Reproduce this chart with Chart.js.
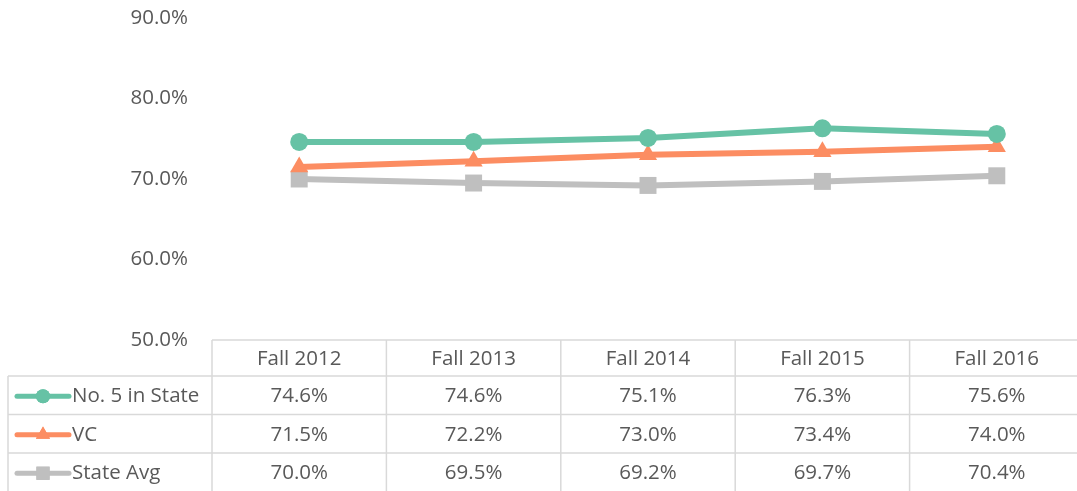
<!DOCTYPE html>
<html>
<head>
<meta charset="utf-8">
<script src="https://cdn.jsdelivr.net/npm/chart.js@4.4.1/dist/chart.umd.min.js"></script>
<style>
  html, body { margin: 0; padding: 0; background: #fff; overflow: hidden; }
  canvas { display: block; }
</style>
</head>
<body>
<canvas id="chart" width="1096" height="491"></canvas>
<script>
const categories = ['Fall 2012', 'Fall 2013', 'Fall 2014', 'Fall 2015', 'Fall 2016'];
const no5InState = [74.6, 74.6, 75.1, 76.3, 75.6];
const vc = [71.5, 72.2, 73.0, 73.4, 74.0];
const stateAvg = [70.0, 69.5, 69.2, 69.7, 70.4];
const yTicks = [50, 60, 70, 80, 90];

const FONT = '"Open Sans", sans-serif';
const FONT_SIZE = 20.5;
const TEXT = '#595959';
const GRID = '#D9D9D9';

const pct = v => v.toFixed(1) + '%';

// data table drawn under the plot, columns follow the x scale
const dataTable = {
    id: 'dataTable',
    afterDraw(chart) {
        const ctx = chart.ctx;
        const area = chart.chartArea;
        const xs = chart.scales.x;
        const n = categories.length;
        const colW = (area.right - area.left) / n;
        const top = area.bottom;
        const headH = 36;
        const rowH = 38.5;
        const tableLeft = 8;
        const bottom = top + headH + rowH * 3;

        ctx.save();
        ctx.strokeStyle = GRID;
        ctx.lineWidth = 1.5;
        ctx.beginPath();
        ctx.moveTo(area.left, top); ctx.lineTo(area.right, top);
        for (let r = 0; r < 3; r++) {
            const y = top + headH + r * rowH;
            ctx.moveTo(tableLeft, y); ctx.lineTo(area.right, y);
        }
        for (let i = 0; i <= n; i++) {
            const x = area.left + i * colW;
            ctx.moveTo(x, top); ctx.lineTo(x, bottom);
        }
        ctx.moveTo(tableLeft, top + headH); ctx.lineTo(tableLeft, bottom);
        ctx.stroke();

        ctx.fillStyle = TEXT;
        ctx.font = FONT_SIZE + 'px ' + FONT;
        ctx.textAlign = 'center';
        ctx.textBaseline = 'middle';
        categories.forEach((c, i) => {
            ctx.fillText(c, xs.getPixelForValue(i), top + headH / 2 + 1);
        });

        chart.data.datasets.forEach((ds, r) => {
            const yMid = top + headH + r * rowH + rowH / 2 + 1;
            ds.data.forEach((v, i) => {
                ctx.textAlign = 'center';
                ctx.fillStyle = TEXT;
                ctx.fillText(pct(v), xs.getPixelForValue(i), yMid);
            });
            // legend key
            ctx.strokeStyle = ds.borderColor;
            ctx.lineWidth = 5;
            ctx.lineCap = 'round';
            ctx.beginPath();
            ctx.moveTo(17, yMid); ctx.lineTo(69, yMid);
            ctx.stroke();
            ctx.fillStyle = ds.backgroundColor;
            Chart.helpers.drawPoint(ctx, {
                pointStyle: ds.pointStyle,
                radius: ds.pointRadius * 0.78,
                borderWidth: 0
            }, 43, yMid);
            ctx.fill();
            ctx.fillStyle = TEXT;
            ctx.textAlign = 'left';
            ctx.fillText(ds.label, 72, yMid);
        });
        ctx.restore();
    }
};

function series(label, data, color, style, radius) {
    return {
        label: label,
        data: data,
        borderColor: color,
        backgroundColor: color,
        borderWidth: 6,
        pointStyle: style,
        pointRadius: radius,
        pointHoverRadius: radius,
        pointBorderWidth: 0,
        tension: 0,
        fill: false
    };
}

new Chart(document.getElementById('chart'), {
    type: 'line',
    data: {
        labels: categories,
        datasets: [
            series('No. 5 in State', no5InState, '#66C2A5', 'circle', 9),
            series('VC', vc, '#FC8D62', 'triangle', 10.5),
            series('State Avg', stateAvg, '#BFBFBF', 'rect', 12)
        ]
    },
    options: {
        responsive: false,
        animation: false,
        layout: { padding: { top: 18, bottom: 151, left: 0, right: 0 } },
        plugins: {
            legend: { display: false },
            tooltip: { enabled: false }
        },
        scales: {
            x: {
                display: false,
                offset: true
            },
            y: {
                min: 50,
                max: 90,
                afterBuildTicks: s => { s.ticks = yTicks.map(v => ({ value: v })); },
                afterFit: s => { s.width = 212; s.paddingTop = 0; s.paddingBottom = 0; },
                grid: { display: false },
                border: { display: false },
                ticks: {
                    padding: 16,
                    color: TEXT,
                    font: { family: FONT, size: FONT_SIZE },
                    callback: v => pct(v)
                }
            }
        }
    },
    plugins: [dataTable]
});
</script>
</body>
</html>
